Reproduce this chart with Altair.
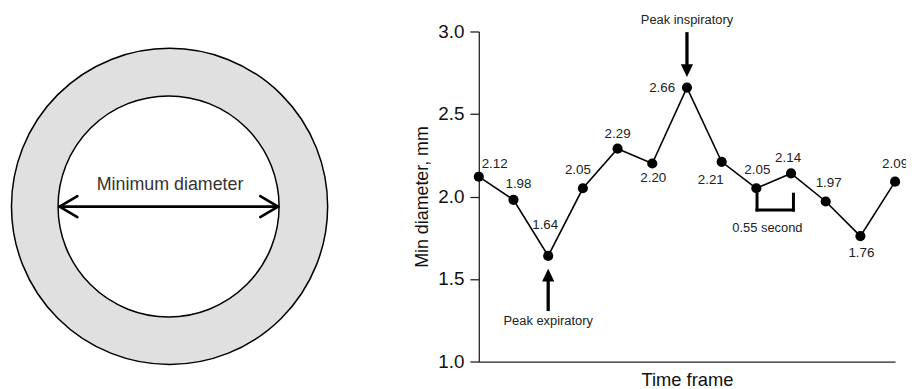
import altair as alt
import pandas as pd

# ---------------- data ----------------
frames = list(range(13))
min_diameter = [2.12, 1.98, 1.64, 2.05, 2.29, 2.20, 2.66, 2.21, 2.05, 2.14, 1.97, 1.76, 2.09]
y_ticks = [1.0, 1.5, 2.0, 2.5, 3.0]
x_title = "Time frame"
y_title = "Min diameter, mm"
diagram_label = "Minimum diameter"
insp_label = "Peak inspiratory"
exp_label = "Peak expiratory"
interval_label = "0.55 second"

df = pd.DataFrame({"frame": frames, "d": min_diameter})

# ---------------- style / layout ----------------
FONT = "Liberation Sans"
INK = "#111111"
W, H = 420, 333
PAD = {"left": 475, "top": 22, "right": 11, "bottom": 26}
ORIGIN_X, ORIGIN_Y = 483, 30  # page position of the plot origin

# per-point label offsets (dx, dy) in pixels
LABEL_OFFSETS = [(16, -13), (5, -16), (-3, -31), (-5, -18), (0, -15), (1, 15), (-25, 0),
                 (-11, 18), (1, -18), (-3, -16), (3, -19), (1, 17), (0, -18)]

x_scale = alt.Scale(domain=[0, 12], nice=False, zero=False)
y_scale = alt.Scale(domain=[1, 3], nice=False, zero=False)


def px(x):
    return x - ORIGIN_X


def py(y):
    return y - ORIGIN_Y


one = pd.DataFrame({"k": [0]})

# ---------------- left diagram (decoration, pixel placed) ----------------
cx, cy = 171, 206.5
outer = alt.Chart(one).mark_circle(
    fill="#e1e0e1", stroke="black", strokeWidth=1.5, opacity=1, fillOpacity=1
).encode(x=alt.value(px(cx)), y=alt.value(py(cy)), size=alt.value((2 * 159.5) ** 2))
inner = alt.Chart(one).mark_circle(
    fill="white", stroke="black", strokeWidth=1.5, opacity=1, fillOpacity=1
).encode(x=alt.value(px(cx - 1)), y=alt.value(py(cy)), size=alt.value((2 * 111.5) ** 2))

arrow_y = 206.7
xl, xr = 60, 280.5
seg_list = [
    (xl, arrow_y, xr, arrow_y),
    (xl, arrow_y, xl + 18, arrow_y - 10.5),
    (xl, arrow_y, xl + 18, arrow_y + 10.5),
    (xr, arrow_y, xr - 18, arrow_y - 10.5),
    (xr, arrow_y, xr - 18, arrow_y + 10.5),
]
diag_arrow = [
    alt.Chart(one).mark_rule(color="black", strokeWidth=2.6, strokeCap="round").encode(
        x=alt.value(px(a)), y=alt.value(py(b)), x2=alt.value(px(c)), y2=alt.value(py(d))
    )
    for (a, b, c, d) in seg_list
]
diag_text = alt.Chart(one).mark_text(
    text=diagram_label, font=FONT, fontSize=18, color="#333333", align="center", baseline="middle"
).encode(x=alt.value(px(171.5)), y=alt.value(py(185)))

# ---------------- main chart ----------------
x_axis = alt.Axis(
    title=x_title, labels=False, ticks=False, grid=False, domainColor="#222", domainWidth=1.3,
    titleFont=FONT, titleFontSize=18.5, titleFontWeight="normal", titleColor=INK, titlePadding=9,
)
y_axis = alt.Axis(
    title=y_title, values=y_ticks, format=".1f", grid=False, tickSize=9, tickColor="#222", tickWidth=1.3,
    domainColor="#222", domainWidth=1.3, labelFont=FONT, labelFontSize=19, labelColor=INK, labelPadding=6,
    titleFont=FONT, titleFontSize=18, titleFontWeight="normal", titleColor=INK,
    titleAngle=270, titleX=-57, titleY=H / 2, titleAlign="center", titleBaseline="middle",
)


def X(f):
    return alt.X(f, scale=x_scale, axis=x_axis)


def Y(f):
    return alt.Y(f, scale=y_scale, axis=y_axis)


base = alt.Chart(df)
line = base.mark_line(color="black", strokeWidth=1.6).encode(x=X("frame:Q"), y=Y("d:Q"))
points = base.mark_circle(color="black", size=105, opacity=1).encode(x=X("frame:Q"), y=Y("d:Q"))

value_labels = []
for i, (ddx, ddy) in enumerate(LABEL_OFFSETS):
    value_labels.append(
        base.transform_filter(alt.datum.frame == i).mark_text(
            font=FONT, fontSize=13.5, color="#222", align="center", baseline="middle", dx=ddx, dy=ddy
        ).encode(x=X("frame:Q"), y=Y("d:Q"), text=alt.Text("d:Q", format=".2f"))
    )

# annotation anchors (data coordinates)
shafts = pd.DataFrame({"frame": [6, 2], "d": [2.996, 1.306], "d2": [2.79, 1.50]})
heads_down = pd.DataFrame({"frame": [6], "d": [2.763]})
heads_up = pd.DataFrame({"frame": [2], "d": [1.524]})
bracket = pd.DataFrame({
    "frame": [8.02, 9.07, 8.02], "frame2": [8.02, 9.07, 9.07],
    "d": [2.014, 2.014, 1.918], "d2": [1.918, 1.918, 1.918],
})
notes = pd.DataFrame({
    "frame": [6, 2, 8.32], "d": [3.070, 1.246, 1.810],
    "label": [insp_label, exp_label, interval_label],
})

shaft_layer = alt.Chart(shafts).mark_rule(color="black", strokeWidth=3.3).encode(
    x=X("frame:Q"), y=Y("d:Q"), y2="d2:Q"
)
down_layer = alt.Chart(heads_down).mark_point(
    shape="M -0.95 -1 L 0.95 -1 L 0 1 Z", filled=True, color="black", size=169, opacity=1
).encode(x=X("frame:Q"), y=Y("d:Q"))
up_layer = alt.Chart(heads_up).mark_point(
    shape="M -0.95 1 L 0.95 1 L 0 -1 Z", filled=True, color="black", size=169, opacity=1
).encode(x=X("frame:Q"), y=Y("d:Q"))
bracket_layer = alt.Chart(bracket).mark_rule(color="black", strokeWidth=3, strokeCap="square").encode(
    x=X("frame:Q"), x2="frame2:Q", y=Y("d:Q"), y2="d2:Q"
)
note_layer = alt.Chart(notes).mark_text(
    font=FONT, fontSize=13, color="#222", align="center", baseline="middle"
).encode(x=X("frame:Q"), y=Y("d:Q"), text="label:N")

chart = alt.layer(
    outer, inner, *diag_arrow, diag_text,
    line, bracket_layer, shaft_layer, down_layer, up_layer, points, *value_labels, note_layer,
).properties(
    width=W, height=H, autosize=alt.AutoSizeParams(type="none"), padding=PAD, background="white",
).configure_view(stroke=None)

chart.save("out.html", embed_options={"renderer": "svg", "actions": False})
